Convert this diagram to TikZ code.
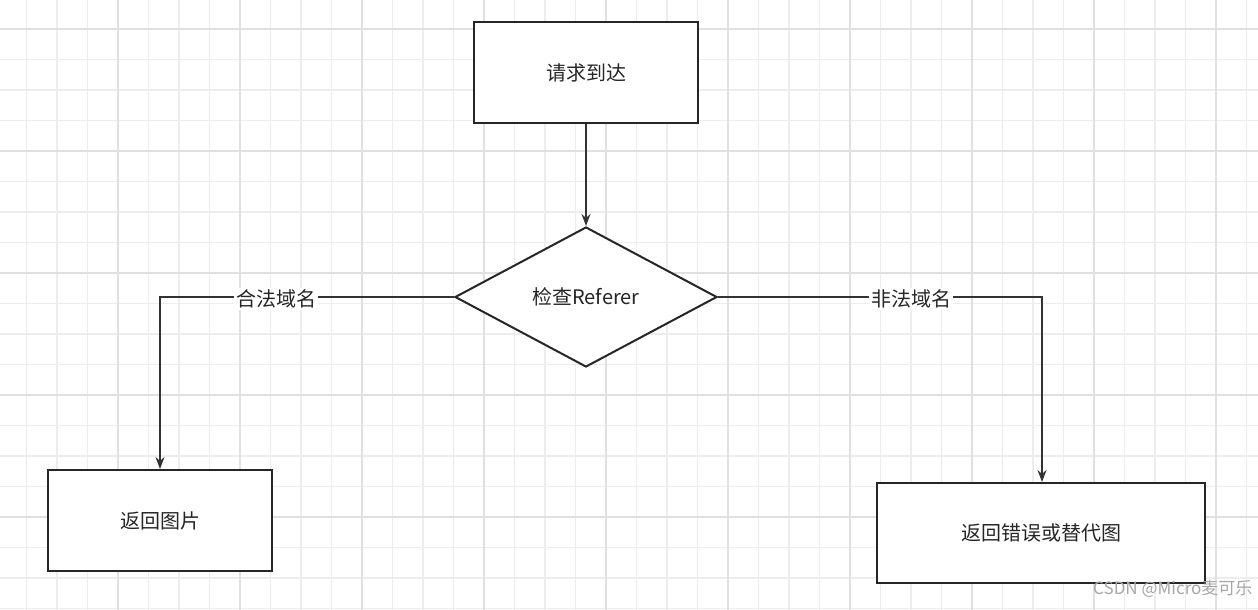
\documentclass[tikz,border=0pt]{standalone}
\usepackage{fontspec}
\setmainfont{Noto Sans CJK SC}
\usetikzlibrary{shapes.geometric,arrows.meta}
\begin{document}
\begin{tikzpicture}[x=1pt,y=-1pt,
  box/.style={draw=black!85,line width=2pt,minimum width=224pt,minimum height=101pt,font=\fontsize{20}{24}\selectfont,text=black!85},
  dia/.style={draw=black!85,line width=2pt,diamond,minimum width=262pt,minimum height=140pt,aspect=1.87,inner sep=0pt,font=\fontsize{20}{24}\selectfont,text=black!85},
  arr/.style={draw=black!80,line width=1.3pt,-{Stealth[length=12pt,width=9pt]}},
  lbl/.style={fill=white,inner sep=2pt,font=\fontsize{20}{24}\selectfont,text=black!85}]
\useasboundingbox (0,0) rectangle (1258,610);
\foreach \x in {-4,...,41} \draw[black!7,line width=1.2pt] (118+30.5*\x,0) -- (118+30.5*\x,610);
\foreach \y in {-1,...,20} \draw[black!7,line width=1.2pt] (0,29+30.5*\y) -- (1258,29+30.5*\y);
\foreach \x in {-1,...,10} \draw[black!12,line width=1.4pt] (118+122*\x,0) -- (118+122*\x,610);
\foreach \y in {0,...,5} \draw[black!12,line width=1.4pt] (0,29+122*\y) -- (1258,29+122*\y);
\node[box,fill=white] (start) at (586,72.5) {请求到达};
\node[dia,fill=white] (check) at (586,297) {};
\node[font=\fontsize{20}{24}\selectfont,text=black!85] (checkt) at (586,297) {检查Referer};
\node[box,fill=white] (ok) at (160,520.5) {返回图片};
\node[box,fill=white,minimum width=328pt,minimum height=100pt] (bad) at (1041,533) {返回错误或替代图};
\coordinate (lc) at (160,297);
\coordinate (rc) at (1042,297);
\draw[arr] (start) -- (check);
\draw[arr] (check.west) -- (lc) -- (ok.north);
\draw[arr] (check.east) -- (rc) -- (bad.north -| rc);
\node[lbl] (l1) at (276,299) {合法域名};
\node[lbl] (l2) at (911,299) {非法域名};
\node[text=black!35,font=\fontsize{17}{20}\selectfont,anchor=east] (wm) at (1256,589) {CSDN @Micro麦可乐};
\end{tikzpicture}
\end{document}
